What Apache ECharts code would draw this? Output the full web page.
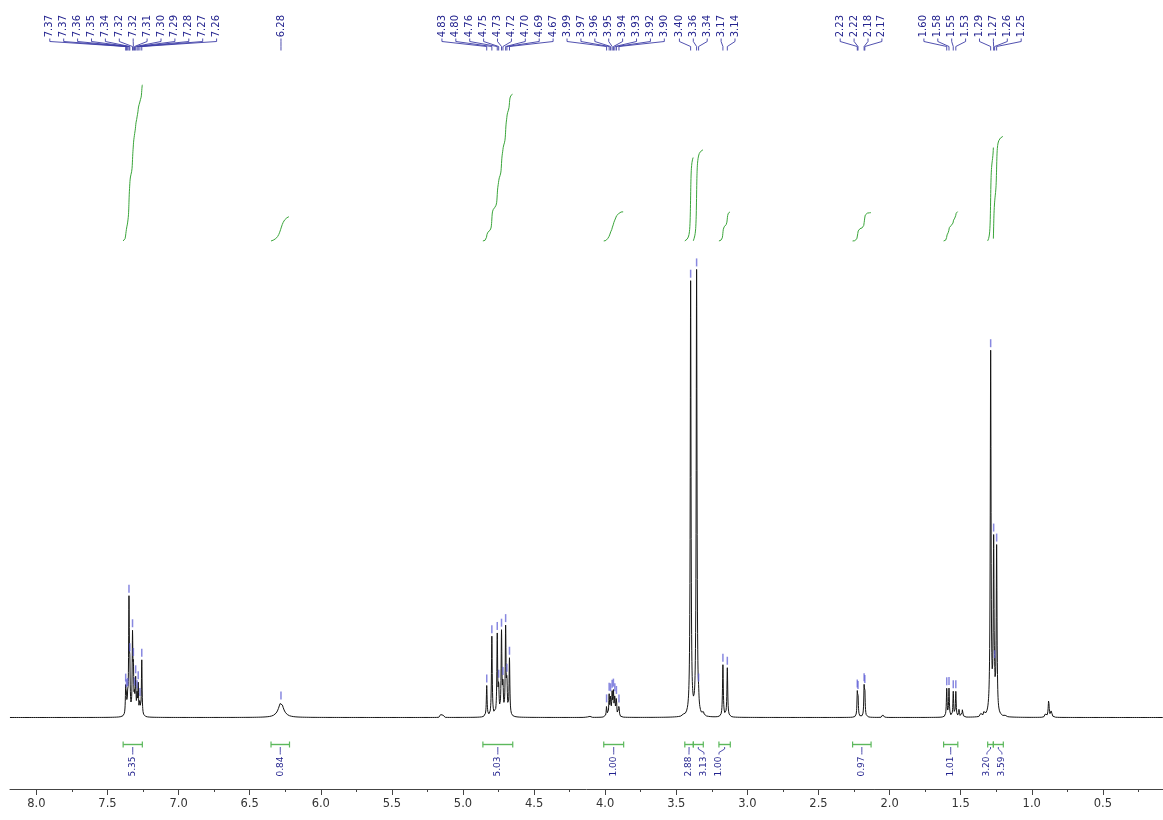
<!DOCTYPE html>
<html>
<head>
<meta charset="utf-8">
<title>1H NMR</title>
<script src="https://cdn.jsdelivr.net/npm/echarts@6/dist/echarts.min.js"></script>
<style>
  html, body { margin: 0; padding: 0; background: #ffffff; }
  #chart { width: 1163px; height: 820px; }
</style>
</head>
<body>
<div id="chart"></div>
<script>
// Resolved lines of the 1H spectrum: shift (ppm), peak height, Lorentzian half-width (ppm)
const linePpm = [
  7.372, 7.367, 7.358, 7.349, 7.343, 7.324, 7.318, 7.310, 7.302, 7.292, 7.284, 7.272, 7.259,
  6.280, 5.155, 5.142,
  4.833, 4.797, 4.759, 4.749, 4.729, 4.719, 4.700, 4.691, 4.673,
  4.130, 4.110,
  3.990, 3.972, 3.962, 3.951, 3.942, 3.932, 3.921, 3.903,
  3.447, 3.399, 3.357, 3.343, 3.308, 3.172, 3.141,
  2.227, 2.222, 2.179, 2.174, 2.045,
  1.598, 1.582, 1.552, 1.534, 1.511, 1.487,
  1.358, 1.336, 1.289, 1.268, 1.261, 1.247, 1.190,
  0.905, 0.881, 0.862
];
const lineHeight = [
  26, 16, 14, 111, 40, 76, 40, 16, 34, 18, 30, 13, 56,
  15, 4, 3,
  31, 80, 80, 26, 82, 28, 86, 30, 57,
  2, 2,
  11, 21, 19, 22, 23, 19, 18, 11,
  3, 434, 445, 8, 3, 52, 49,
  22, 20, 27, 25, 5,
  28, 28, 25, 25, 8, 8,
  3, 5, 362, 168, 12, 166, 2,
  3, 17, 7
];
const lineHalfWidth = [
  0.0028, 0.0028, 0.0028, 0.0028, 0.0028, 0.0028, 0.0028, 0.0028, 0.0028, 0.0028, 0.0028, 0.0028, 0.0028,
  0.022, 0.003, 0.003,
  0.0032, 0.0032, 0.0032, 0.0032, 0.0032, 0.0032, 0.0032, 0.0032, 0.0032,
  0.003, 0.003,
  0.003, 0.003, 0.003, 0.003, 0.003, 0.003, 0.003, 0.003,
  0.003, 0.0033, 0.0033, 0.003, 0.003, 0.0033, 0.0033,
  0.0028, 0.0028, 0.0028, 0.0028, 0.003,
  0.003, 0.003, 0.003, 0.003, 0.003, 0.003,
  0.003, 0.003, 0.0033, 0.0033, 0.0033, 0.0033, 0.003,
  0.004, 0.004, 0.004
];

// Picked peaks, one array per annotated multiplet
const pickedGroups = [
  [7.372, 7.367, 7.358, 7.349, 7.343, 7.324, 7.318, 7.310, 7.302, 7.292, 7.284, 7.272, 7.259],
  [6.280],
  [4.833, 4.797, 4.759, 4.749, 4.729, 4.719, 4.700, 4.691, 4.673],
  [3.990, 3.972, 3.962, 3.951, 3.942, 3.932, 3.921, 3.903],
  [3.399, 3.357, 3.343],
  [3.172, 3.141],
  [2.227, 2.222, 2.179, 2.174],
  [1.598, 1.582, 1.552, 1.534],
  [1.289, 1.268, 1.261, 1.247]
];

// Integration regions (ppm) and their normalised integrals
const integralFrom  = [7.39, 6.35, 4.86, 4.01, 3.44, 3.38, 3.20, 2.26, 1.62, 1.31, 1.27];
const integralTo    = [7.255, 6.22, 4.65, 3.87, 3.38, 3.31, 3.12, 2.13, 1.52, 1.27, 1.20];
const integralValue = [5.35, 0.84, 5.03, 1.00, 2.88, 3.13, 1.00, 0.97, 1.01, 3.20, 3.59];

// Chemical-shift scale: labelled ticks and the short ticks between them
const majorTicks = [8.0, 7.5, 7.0, 6.5, 6.0, 5.5, 5.0, 4.5, 4.0, 3.5, 3.0, 2.5, 2.0, 1.5, 1.0, 0.5];
const minorTicks = [7.75, 7.25, 6.75, 6.25, 5.75, 5.25, 4.75, 4.25, 3.75, 3.25, 2.75, 2.25, 1.75, 1.25, 0.75, 0.25];

// Visible window (ppm) and the span of the acquired trace
const windowLow = 0.077, windowHigh = 8.256;
const sweepStart = 8.186, sweepEnd = 0.077;

function intensity(ppm) {
  let s = 0;
  for (let i = 0; i < linePpm.length; i++) {
    const d = (ppm - linePpm[i]) / lineHalfWidth[i];
    s += lineHeight[i] / (1 + d * d);
  }
  return s;
}

function spectrumTrace() {
  const pts = [];
  const a = Math.round(sweepStart * 1000), b = Math.round(sweepEnd * 1000);
  for (let k = a; k >= b; k--) {
    const p = k / 1000;
    pts.push([p, intensity(p)]);
  }
  return pts;
}

function integralCurve(from, to, total) {
  const step = 0.0005;
  const n = Math.round((from - to) / step);
  const raw = [];
  let acc = 0;
  for (let i = 0; i <= n; i++) {
    const p = from - i * step;
    acc += intensity(p);
    raw.push([p, acc]);
  }
  return raw.map(([p, v]) => [p, v / acc * total]);
}

const mean = xs => xs.reduce((s, v) => s + v, 0) / xs.length;

// Spread labels so neighbours keep a minimum spacing; overlapping blocks are merged and re-centred
function spread(groupsX, spacing, mergeGap) {
  let blocks = groupsX.map((xs, g) => ({ members: [g], xs: xs.slice() }));
  blocks.sort((a, b) => mean(a.xs) - mean(b.xs));
  const half = blk => (blk.xs.length - 1) / 2 * spacing;
  let merged = true;
  while (merged) {
    merged = false;
    for (let i = 0; i < blocks.length - 1; i++) {
      const a = blocks[i], b = blocks[i + 1];
      const gap = (mean(b.xs) - half(b)) - (mean(a.xs) + half(a));
      if (gap < mergeGap) {
        blocks.splice(i, 2, { members: a.members.concat(b.members), xs: a.xs.concat(b.xs) });
        merged = true;
        break;
      }
    }
  }
  const out = groupsX.map(() => []);
  blocks.forEach(blk => {
    const c = mean(blk.xs), n = blk.xs.length;
    let k = 0;
    blk.members.forEach(g => {
      groupsX[g].forEach(() => { out[g].push(c + (k - (n - 1) / 2) * spacing); k++; });
    });
  });
  return out;
}

const labelBlue = '#24248f';
const linkBlue = '#3c3ca6';
const markerBlue = 'rgba(96, 96, 214, 0.75)';
const curveGreen = '#3aa53a';
const barGreen = '#5cb85c';
const axisGrey = '#444444';

function renderPeakLabels(params, api) {
  if (params.dataIndex !== 0) return null;
  const peakX = pickedGroups.map(g => g.map(p => api.coord([p, 0])[0]));
  const labelX = spread(peakX, 13.9, 13.9);
  const children = [];
  pickedGroups.forEach((g, gi) => {
    g.forEach((p, k) => {
      const lx = labelX[gi][k], px = peakX[gi][k];
      children.push({
        type: 'text', x: lx, y: 15, rotation: Math.PI / 2,
        style: { text: p.toFixed(2), fill: labelBlue, font: '10px "DejaVu Sans"', align: 'right', verticalAlign: 'middle' }
      });
      children.push({
        type: 'polyline',
        shape: { points: [[lx, 38.5], [lx, 41.5], [px, 46.5], [px, 50.5]] },
        style: { stroke: linkBlue, lineWidth: 0.9, fill: null }
      });
      const top = api.coord([p, intensity(p)])[1];
      children.push({
        type: 'line',
        shape: { x1: px, y1: top - 11, x2: px, y2: top - 3 },
        style: { stroke: markerBlue, lineWidth: 1.5 }
      });
    });
  });
  return { type: 'group', children };
}

function renderIntegralBars(params, api) {
  if (params.dataIndex !== 0) return null;
  const base = api.coord([4, 0])[1];
  const barY = base + 27;
  const centers = integralFrom.map((f, k) => api.coord([(f + integralTo[k]) / 2, 0])[0]);
  const labelX = spread(centers.map(x => [x]), 15, 26);
  const children = [];
  integralFrom.forEach((f, k) => {
    const x1 = api.coord([f, 0])[0], x2 = api.coord([integralTo[k], 0])[0];
    const cx = centers[k], lx = labelX[k][0];
    children.push({ type: 'line', shape: { x1, y1: barY, x2, y2: barY }, style: { stroke: barGreen, lineWidth: 1.4 } });
    children.push({ type: 'line', shape: { x1, y1: barY - 3, x2: x1, y2: barY + 3 }, style: { stroke: barGreen, lineWidth: 1.2 } });
    children.push({ type: 'line', shape: { x1: x2, y1: barY - 3, x2, y2: barY + 3 }, style: { stroke: barGreen, lineWidth: 1.2 } });
    children.push({
      type: 'polyline',
      shape: { points: [[cx, barY + 2.5], [cx, barY + 4.5], [lx, barY + 8], [lx, barY + 10]] },
      style: { stroke: linkBlue, lineWidth: 0.9, fill: null }
    });
    children.push({
      type: 'text', x: lx, y: barY + 12, rotation: Math.PI / 2,
      style: { text: integralValue[k].toFixed(2), fill: labelBlue, font: '9px "DejaVu Sans"', align: 'right', verticalAlign: 'middle' }
    });
  });
  return { type: 'group', children };
}

const integralSeries = integralValue.map((v, k) => ({
  type: 'line',
  xAxisIndex: 0,
  yAxisIndex: 1,
  data: integralCurve(integralFrom[k], integralTo[k], v),
  showSymbol: false,
  silent: true,
  lineStyle: { color: curveGreen, width: 1 },
  z: 3
}));

const chart = echarts.init(document.getElementById('chart'), null, { renderer: 'canvas' });
chart.setOption({
  animation: false,
  backgroundColor: '#ffffff',
  grid: [
    { left: 0, right: 0, top: 0, bottom: 31 },
    { left: 10, right: 0, top: 0, bottom: 31 }
  ],
  xAxis: [
    {
      type: 'value', gridIndex: 0, position: 'bottom', inverse: true, min: windowLow, max: windowHigh,
      axisLine: { show: false, onZero: false },
      axisTick: { show: true, length: 6, customValues: majorTicks, lineStyle: { color: axisGrey, width: 1 } },
      axisLabel: {
        margin: 9, fontSize: 11.5, fontFamily: 'DejaVu Sans', color: '#333333',
        customValues: majorTicks,
        formatter: v => v.toFixed(1)
      },
      splitLine: { show: false }
    },
    {
      type: 'value', gridIndex: 0, position: 'bottom', inverse: true, min: windowLow, max: windowHigh,
      axisLine: { show: false, onZero: false },
      axisTick: { show: true, length: 3, customValues: minorTicks, lineStyle: { color: axisGrey, width: 1 } },
      axisLabel: { show: false },
      splitLine: { show: false }
    },
    {
      type: 'value', gridIndex: 1, position: 'bottom', min: 0, max: 1,
      axisLine: { show: true, onZero: false, lineStyle: { color: axisGrey, width: 1 } },
      axisTick: { show: false }, axisLabel: { show: false }, splitLine: { show: false }
    }
  ],
  yAxis: [
    { type: 'value', gridIndex: 0, min: -71.5, max: 717.5, show: false, splitLine: { show: false } },
    { type: 'value', gridIndex: 0, min: -18.767, max: 8.253, show: false, splitLine: { show: false } },
    { type: 'value', gridIndex: 1, min: 0, max: 1, show: false, splitLine: { show: false } }
  ],
  series: [
    {
      type: 'line',
      xAxisIndex: 0,
      yAxisIndex: 0,
      data: spectrumTrace(),
      showSymbol: false,
      silent: true,
      lineStyle: { color: '#151515', width: 1 },
      z: 2
    },
    ...integralSeries,
    {
      type: 'custom',
      xAxisIndex: 0,
      yAxisIndex: 0,
      data: [[4, 100]],
      renderItem: renderPeakLabels,
      silent: true,
      clip: false,
      z: 4
    },
    {
      type: 'custom',
      xAxisIndex: 0,
      yAxisIndex: 0,
      data: [[4, 100]],
      renderItem: renderIntegralBars,
      silent: true,
      clip: false,
      z: 4
    }
  ]
});
</script>
</body>
</html>
